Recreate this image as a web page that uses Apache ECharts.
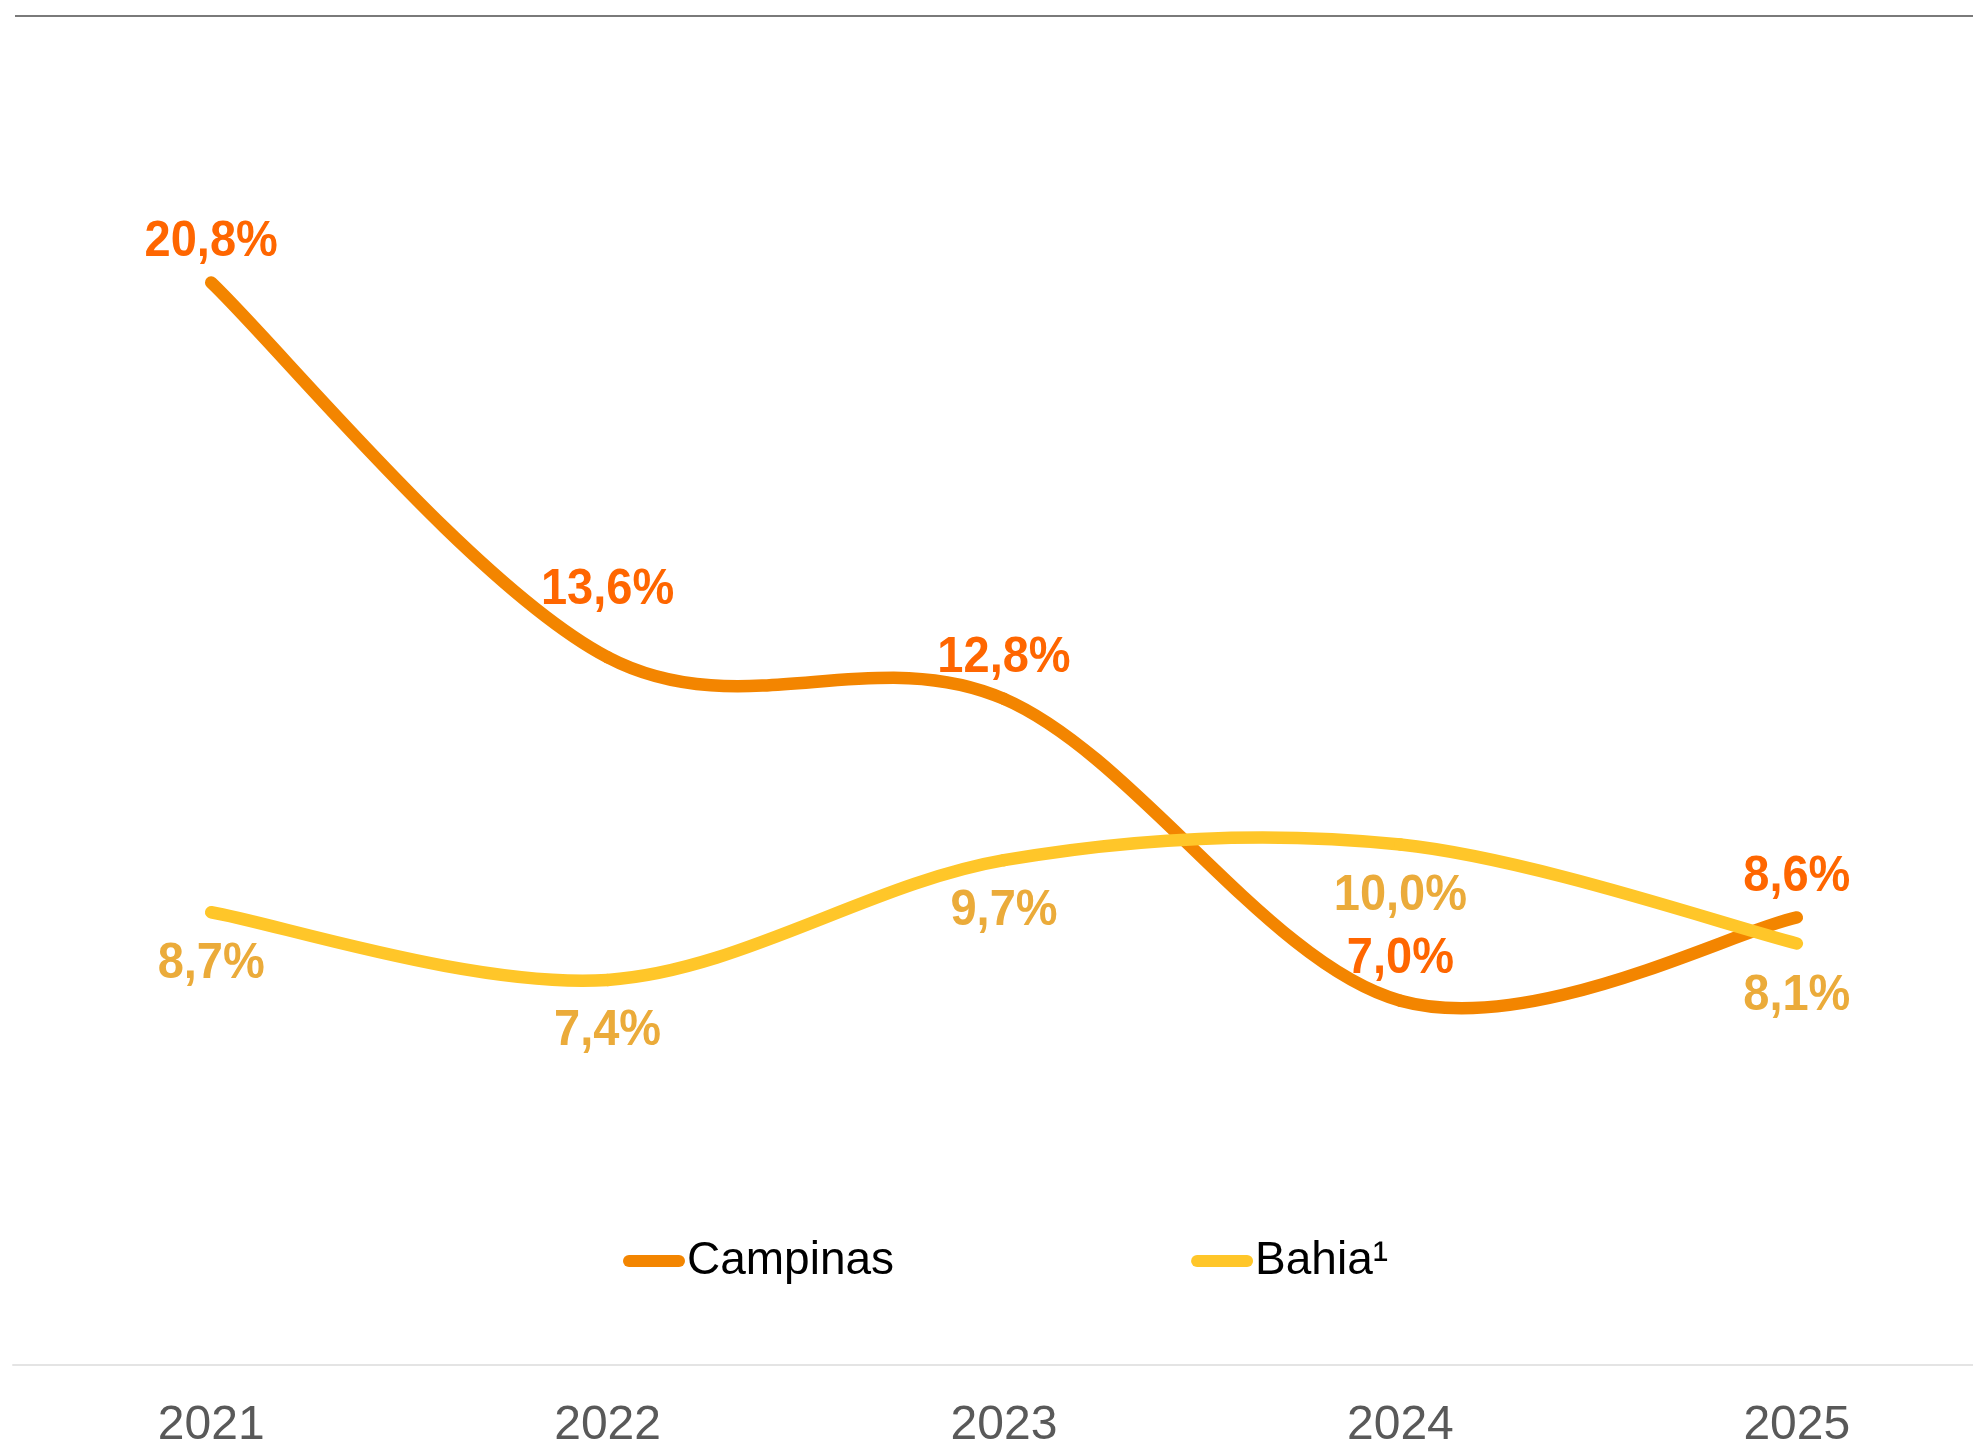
<!DOCTYPE html>
<html>
<head>
<meta charset="utf-8">
<script src="https://cdn.jsdelivr.net/npm/echarts@6/dist/echarts.min.js"></script>
<style>
  html, body { margin: 0; padding: 0; background: #ffffff; }
  #chart { width: 1973px; height: 1444px; }
</style>
</head>
<body>
<div id="chart"></div>
<script>
// ---- data ----
const years = ['2021', '2022', '2023', '2024', '2025'];
const campinas = [20.8, 13.6, 12.8, 7.0, 8.6];
const bahia = [8.7, 7.4, 9.7, 10.0, 8.1];
const seriesNames = ['Campinas', 'Bahia¹'];

// ---- styles ----
const campinasLine = '#F38500';
const campinasLabel = '#FF6600';
const bahiaLine = '#FFC629';
const bahiaLabel = '#EBAB3A';
const campinasLabelDy = [-40, -67, -40, -41, -40];
const bahiaLabelDy = [52, 52, 51, 52, 53];
const FONT = '"Liberation Sans", Arial, sans-serif';

function fmt(v) { return v.toFixed(1).replace('.', ',') + '%'; }

function makeRender(values, lineColor, labelColor, labelDy) {
  return function (params, api) {
    const i = params.dataIndex;
    const n = values.length;
    const cl = k => Math.max(0, Math.min(n - 1, k));
    const pt = k => api.coord([cl(k), values[cl(k)]]);
    const children = [];
    if (i < n - 1) {
      const p0 = pt(i - 1), p1 = pt(i), p2 = pt(i + 1), p3 = pt(i + 2);
      const c1 = [p1[0] + (p2[0] - p0[0]) / 6, p1[1] + (p2[1] - p0[1]) / 6];
      const c2 = [p2[0] - (p3[0] - p1[0]) / 6, p2[1] - (p3[1] - p1[1]) / 6];
      children.push({
        type: 'bezierCurve',
        shape: { x1: p1[0], y1: p1[1], cpx1: c1[0], cpy1: c1[1], cpx2: c2[0], cpy2: c2[1], x2: p2[0], y2: p2[1] },
        style: { stroke: lineColor, lineWidth: 12.5, lineCap: 'round', fill: null }
      });
    }
    const p = pt(i);
    children.push({
      type: 'text',
      x: p[0], y: p[1] + labelDy[i],
      scaleY: 1.05,
      z2: 100,
      style: {
        text: fmt(values[i]), fill: labelColor,
        font: 'bold 47px ' + FONT,
        align: 'center', verticalAlign: 'middle'
      }
    });
    return { type: 'group', children: children };
  };
}

const chart = echarts.init(document.getElementById('chart'), null, { renderer: 'canvas' });
chart.setOption({
  animation: false,
  backgroundColor: '#ffffff',
  grid: { left: 13, right: -22, top: 116, bottom: 79, containLabel: false, outerBoundsMode: 'none' },
  xAxis: {
    type: 'category',
    data: years,
    boundaryGap: true,
    axisLine: { show: true, lineStyle: { color: '#E4E4E4', width: 2 } },
    axisTick: { show: false },
    axisLabel: { color: '#595959', fontSize: 48, fontFamily: FONT, margin: 37 },
    splitLine: { show: false }
  },
  yAxis: { type: 'value', min: 0, max: 24, show: false, splitLine: { show: false } },
  legend: {
    data: seriesNames,
    left: 623, top: 1238,
    padding: 0,
    itemWidth: 62, itemHeight: 12,
    itemGap: 297,
    icon: 'path://M6,0H56A6,6,0,0,1,56,12H6A6,6,0,0,1,6,0Z',
    textStyle: { color: '#000000', fontSize: 46, fontFamily: FONT, padding: [0, 0, 0, -3] },
    selectedMode: false
  },
  graphic: [{
    type: 'line',
    shape: { x1: 15, y1: 16, x2: 1973, y2: 16 },
    style: { stroke: '#7A7A7A', lineWidth: 2 }
  }],
  series: [
    {
      name: seriesNames[0], type: 'custom',
      itemStyle: { color: campinasLine },
      encode: { x: 0, y: 1 },
      data: campinas.map((v, i) => [i, v]),
      renderItem: makeRender(campinas, campinasLine, campinasLabel, campinasLabelDy)
    },
    {
      name: seriesNames[1], type: 'custom',
      itemStyle: { color: bahiaLine },
      encode: { x: 0, y: 1 },
      data: bahia.map((v, i) => [i, v]),
      renderItem: makeRender(bahia, bahiaLine, bahiaLabel, bahiaLabelDy)
    }
  ]
});
</script>
</body>
</html>
